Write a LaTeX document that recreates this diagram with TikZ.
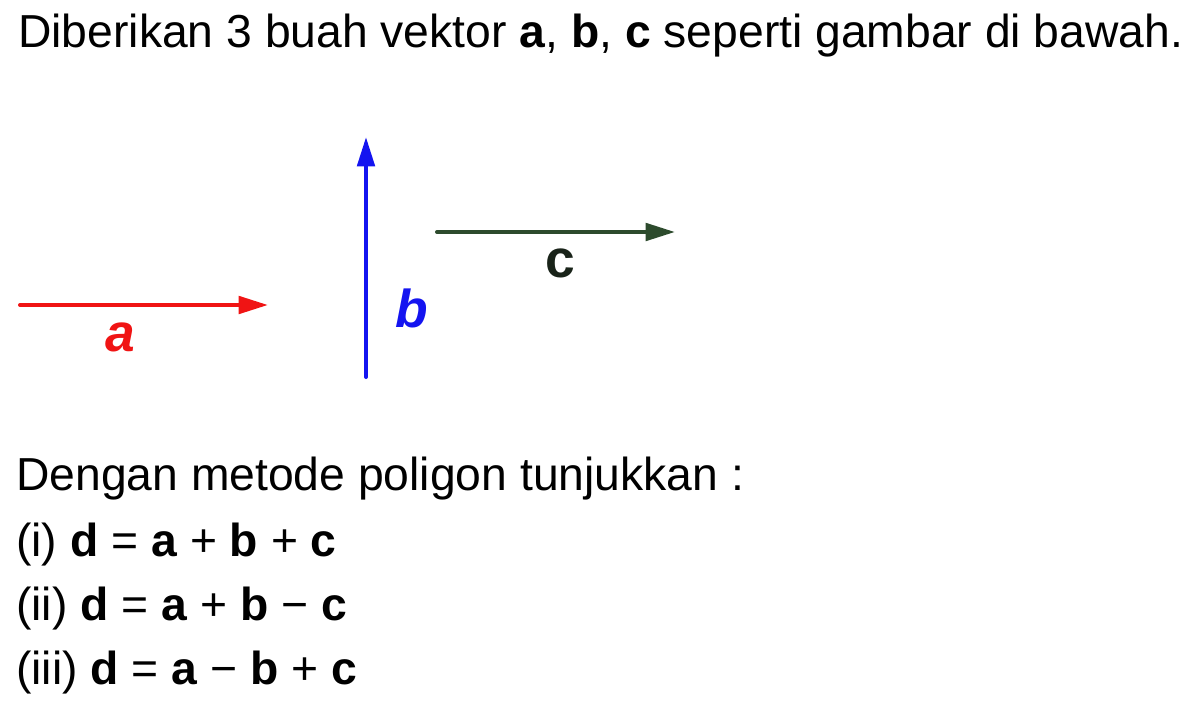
\documentclass[tikz,border=0pt]{standalone}
\usepackage{fontspec}
\setmainfont{Liberation Sans}
\usetikzlibrary{arrows.meta}
\definecolor{vred}{RGB}{240,20,20}
\definecolor{vblue}{RGB}{20,20,240}
\definecolor{vgreen}{RGB}{45,75,45}
\definecolor{cdark}{RGB}{25,35,25}
\begin{document}
\begin{tikzpicture}[x=0.75pt,y=-0.75pt,
  txt/.style={anchor=base west,inner sep=0pt,font=\fontsize{34.7}{40}\selectfont},
  vec/.style={line width=3pt,line cap=round,-{Triangle[length=22pt,width=13pt]}},
  lbl/.style={inner sep=0pt,font=\fontsize{40}{44}\selectfont\bfseries}]
\useasboundingbox (0,0) rectangle (1200,711);
\node[txt] (title) at (18,47) {Diberikan 3 buah vektor \textbf{a}, \textbf{b}, \textbf{c} seperti gambar di bawah.};
\coordinate (a0) at (20,305); \coordinate (a1) at (268,305);
\coordinate (b0) at (366,377); \coordinate (b1) at (366,137);
\coordinate (c0) at (437,232); \coordinate (c1) at (675,232);
\draw[vec,vred] (a0) -- (a1);
\draw[vec,vblue] (b0) -- (b1);
\draw[vec,vgreen] (c0) -- (c1);
\node[lbl,text=vred] (la) at (120,337) {\itshape a};
\node[lbl,text=vblue] (lb) at (412,308) {\itshape b};
\node[lbl,text=cdark] (lc) at (560,263) {c};
\node[txt] (q) at (16,490) {Dengan metode poligon tunjukkan :};
\node[txt] (i1) at (16,556) {(i) \textbf{d} = \textbf{a} + \textbf{b} + \textbf{c}};
\node[txt] (i2) at (16,620) {(ii) \textbf{d} = \textbf{a} + \textbf{b} − \textbf{c}};
\node[txt] (i3) at (16,684) {(iii) \textbf{d} = \textbf{a} − \textbf{b} + \textbf{c}};
\end{tikzpicture}
\end{document}
